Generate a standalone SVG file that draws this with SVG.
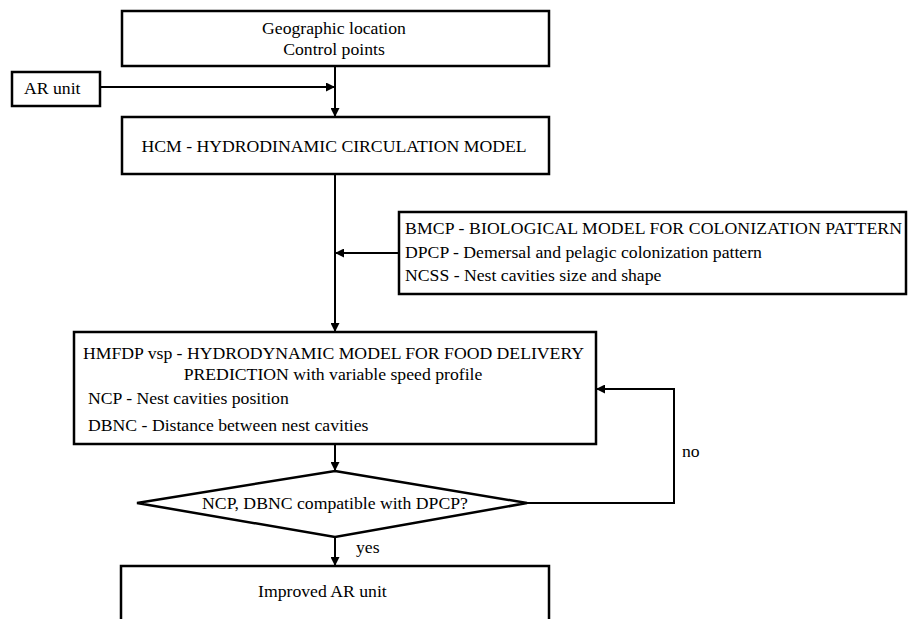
<svg xmlns="http://www.w3.org/2000/svg" width="909" height="619" viewBox="0 0 909 619">
<style>
.box{fill:#fff;stroke:#000;stroke-width:2.5}
.ln{fill:none;stroke:#000;stroke-width:2}
text{font-family:"Liberation Serif","Times New Roman",serif;font-size:17.7px;fill:#000}
.c{text-anchor:middle}
</style>
<defs>
<marker id="ah" viewBox="0 0 10 10" refX="10" refY="5" markerWidth="10" markerHeight="9" markerUnits="userSpaceOnUse" orient="auto">
<path d="M0,0 L10,5 L0,10 z" fill="#000"/>
</marker>
</defs>
<rect width="909" height="619" fill="#fff"/>
<g id="connectors">
<line class="ln" x1="335" y1="66" x2="335" y2="117" marker-end="url(#ah)"/>
<line class="ln" x1="100" y1="87" x2="335" y2="87" marker-end="url(#ah)"/>
<line class="ln" x1="335" y1="174" x2="335" y2="332" marker-end="url(#ah)"/>
<line class="ln" x1="399" y1="253" x2="335" y2="253" marker-end="url(#ah)"/>
<line class="ln" x1="335" y1="444" x2="335" y2="471" marker-end="url(#ah)"/>
<line class="ln" x1="335" y1="537" x2="335" y2="566" marker-end="url(#ah)"/>
<polyline class="ln" points="527,503 674,503 674,389 596,389" marker-end="url(#ah)"/>
<text x="682" y="457">no</text>
<text x="356" y="553">yes</text>
</g>
<g id="geo">
<rect class="box" x="122" y="11" width="427" height="55"/>
<text class="c" x="334" y="34">Geographic location</text>
<text class="c" x="334" y="55">Control points</text>
</g>
<g id="ar">
<rect class="box" x="12" y="72" width="88" height="34"/>
<text x="24" y="94">AR unit</text>
</g>
<g id="hcm">
<rect class="box" x="122" y="117" width="427" height="57"/>
<text class="c" x="334" y="152">HCM - HYDRODINAMIC CIRCULATION MODEL</text>
</g>
<g id="bmcp">
<rect class="box" x="399" y="212" width="507" height="82"/>
<text x="405" y="234" textLength="497" lengthAdjust="spacing">BMCP - BIOLOGICAL MODEL FOR COLONIZATION PATTERN</text>
<text x="405" y="258">DPCP - Demersal and pelagic colonization pattern</text>
<text x="405" y="281">NCSS - Nest cavities size and shape</text>
</g>
<g id="hmfdp">
<rect class="box" x="74" y="332" width="522" height="112"/>
<text x="83" y="359" textLength="501" lengthAdjust="spacing">HMFDP vsp - HYDRODYNAMIC MODEL FOR FOOD DELIVERY</text>
<text class="c" x="333" y="380">PREDICTION with variable speed profile</text>
<text x="88" y="404">NCP - Nest cavities position</text>
<text x="88" y="431">DBNC - Distance between nest cavities</text>
</g>
<g id="decision">
<polygon class="box" points="335,471 527,503 335,537 137,503"/>
<text class="c" x="335" y="509">NCP, DBNC compatible with DPCP?</text>
</g>
<g id="improved">
<rect class="box" x="121" y="566" width="428" height="60"/>
<text x="258" y="597">Improved AR unit</text>
</g>
</svg>
